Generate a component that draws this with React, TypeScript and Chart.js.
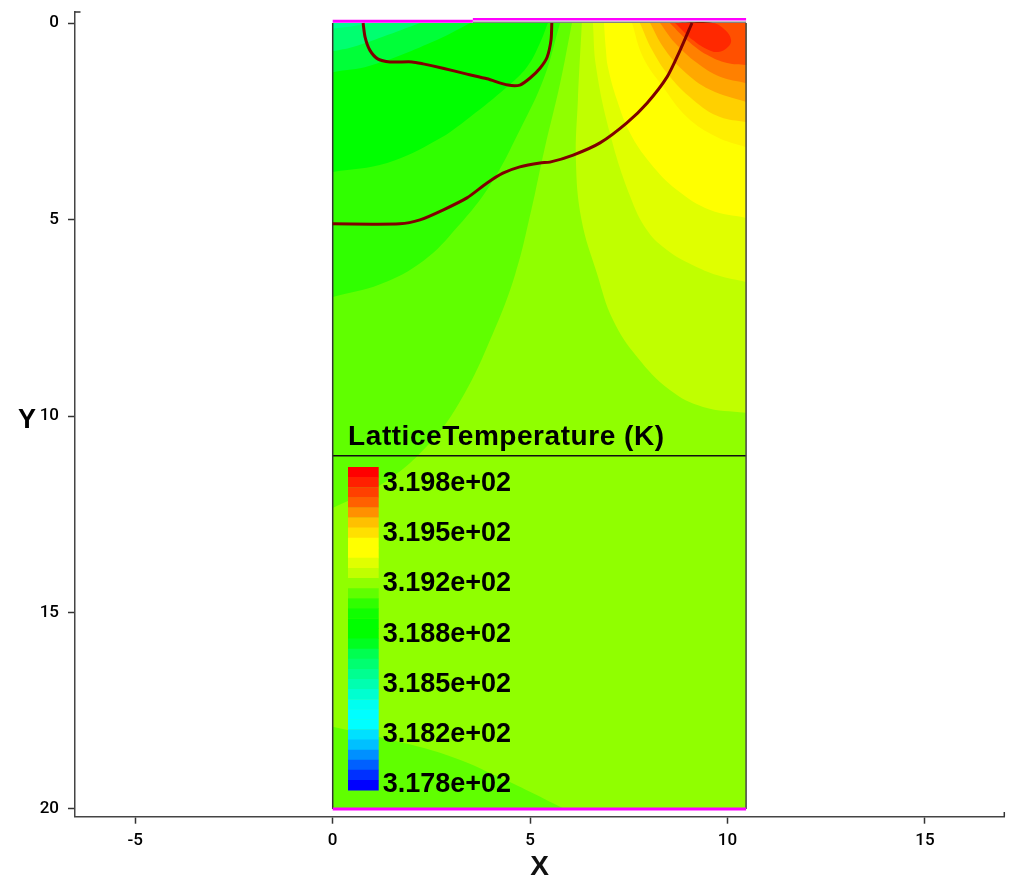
import React, { useEffect, useRef } from "react";
import { Chart, registerables } from "chart.js";

Chart.register(...registerables);

const xTicks = [-5, 0, 5, 10, 15];
const yTicks = [0, 5, 10, 15, 20];
const xMin = -6.527, xMax = 17.01, yMin = -0.28, yMax = 20.196;
const domainX = 10.47, domainY = 20;

type P = [number, number];

// Contour band boundaries, in data units (um). Painted back to front.
const wedgeBottom: P[] = [[0, 17.91], [1.17, 18.17], [2.9, 18.63], [4.24, 19.2], [5.88, 20]];
const band60: P[] = [[6.06, 0], [5.76, 1.53], [5.36, 3.23], [5.02, 4.8], [4.62, 6.4], [4.1, 7.8], [3.3, 9.5], [2.46, 10.69], [1.3, 11.7], [0, 12.34]];
const band30: P[] = [[5.76, 0], [5.35, 1.4], [4.74, 2.72], [4.0, 4.1], [3.15, 5.2], [2.3, 6.05], [1.2, 6.65], [0, 6.97]];
const band00: P[] = [[5.45, 0], [5.25, 0.51], [4.92, 1.12], [4.41, 1.63], [3.48, 2.39], [2.64, 2.98], [1.38, 3.56], [0, 3.79]];
const bandG: P[] = [[3.48, 0], [2.64, 0.43], [0.94, 1.09], [0, 1.25]];
const bandH: P[] = [[2.21, 0], [1.27, 0.35], [0.51, 0.61], [0, 0.72]];
const bandI: P[] = [[1.0, 0], [0.5, 0.08], [0, 0.14]];
const bandC: P[] = [[6.31, 0], [6.21, 1.96], [6.16, 3.5], [6.3, 5.0], [6.69, 6.36], [7.1, 7.56], [7.71, 8.5], [8.54, 9.34], [9.38, 9.77], [10.47, 9.92]];
const bandB: P[] = [[6.59, 0], [6.67, 1.12], [7.02, 2.8], [7.53, 4.4], [7.98, 5.3], [8.5, 5.8], [9.1, 6.15], [9.75, 6.42], [10.47, 6.59]];
const bandA: P[] = [[6.87, 0], [6.92, 0.69], [6.97, 1.12], [7.2, 1.96], [7.53, 2.8], [8.04, 3.56], [8.72, 4.25], [9.56, 4.76], [10.47, 4.96]];
const bandGold: P[] = [[7.58, 0], [7.86, 0.87], [8.37, 1.63], [8.97, 2.39], [9.73, 2.9], [10.47, 3.16]];
const bandAmber: P[] = [[7.78, 0], [8.09, 0.69], [8.54, 1.37], [9.23, 2.04], [9.81, 2.39], [10.47, 2.52]];
const bandOrange: P[] = [[8.04, 0], [8.37, 0.61], [8.87, 1.2], [9.56, 1.7], [10.47, 2.01]];
const bandDeep: P[] = [[8.29, 0], [8.67, 0.51], [9.23, 1.02], [9.81, 1.37], [10.47, 1.53]];
const bandRed: P[] = [[8.54, 0], [8.97, 0.43], [9.48, 0.81], [9.99, 1.02], [10.47, 1.07]];
const hotCore: P[] = [[8.67, 0], [9.63, 0], [9.94, 0.18], [10.09, 0.43], [10.01, 0.61], [9.76, 0.74], [9.43, 0.64], [9.05, 0.38]];

const contourUpper: P[] = [[0.77, 0], [0.82, 0.36], [0.94, 0.69], [1.15, 0.92], [1.45, 0.99], [2.01, 0.99], [2.29, 1.04], [2.79, 1.15], [3.4, 1.3], [3.91, 1.42], [4.44, 1.58], [4.74, 1.58], [5.0, 1.4], [5.25, 1.15], [5.43, 0.87], [5.53, 0.43], [5.55, 0]];
const contourLower: P[] = [[0, 5.11], [1.7, 5.11], [2.21, 5.01], [2.79, 4.76], [3.4, 4.45], [3.91, 4.07], [4.31, 3.82], [4.74, 3.66], [5.25, 3.56], [5.5, 3.54], [6.09, 3.36], [6.77, 3.05], [7.45, 2.54], [7.96, 2.04], [8.47, 1.37], [8.8, 0.69], [9.1, 0]];

const colorbarColors = [
  "#ff0000", "#ff2000", "#ff4000", "#ff6000", "#ff9000", "#ffc000", "#ffe000", "#ffff00",
  "#ffff00", "#e0ff00", "#c0ff00", "#90ff00", "#60ff00", "#30ff00", "#10ff00", "#00ff00",
  "#00ff00", "#00ff20", "#00ff50", "#00ff70", "#00ff90", "#00ffb0", "#00ffd0", "#00fff0",
  "#00ffff", "#00ffff", "#00e0ff", "#00c0ff", "#0090ff", "#0060ff", "#0030ff", "#0000ff",
];
const legendValues = ["3.198e+02", "3.195e+02", "3.192e+02", "3.188e+02", "3.185e+02", "3.182e+02", "3.178e+02"];
const legendRowsY = [11.9, 13.18, 14.46, 15.74, 17.02, 18.3, 19.58];
const legendTitle = "LatticeTemperature (K)";

const pts = (a: P[]) => a.map(([x, y]) => ({ x, y }));

// Closed region: boundary curve + corner; doubled ends keep the spline from rounding corners.
function region(curve: P[], corner: P | null) {
  const first = curve[0];
  const last = curve[curve.length - 1];
  const all: P[] = [first, ...curve, last];
  if (corner) all.push(corner, corner);
  all.push(first, first);
  return pts(all);
}

const fillSet = (data: { x: number; y: number }[], color: string, tension = 0.4) => ({
  data,
  showLine: true,
  fill: "shape",
  backgroundColor: color,
  borderWidth: 0,
  borderColor: color,
  pointRadius: 0,
  tension,
});

const lineSet = (a: P[], color: string, width: number, tension = 0, clip?: boolean) => ({
  data: pts(a),
  showLine: true,
  fill: false,
  borderColor: color,
  backgroundColor: color,
  borderWidth: width,
  pointRadius: 0,
  tension,
  ...(clip === false ? { clip: false } : {}),
});

const TL: P = [0, 0];
const TR: P = [domainX, 0];

function buildDatasets() {
  const rect: P[] = [[0, 0], [domainX, 0], [domainX, domainY], [0, domainY], [0, 0]];
  const list: any[] = [
    fillSet(pts(rect), "#90ff00", 0),
    fillSet(region(wedgeBottom, [0, domainY]), "#60ff00"),
    fillSet(region(band60, TL), "#60ff00"),
    fillSet(region(band30, TL), "#30ff00"),
    fillSet(region(band00, TL), "#00ff00"),
    fillSet(region(bandG, TL), "#00ff38"),
    fillSet(region(bandH, TL), "#00ff70"),
    fillSet(region(bandI, TL), "#00ff90"),
    fillSet(region(bandC, TR), "#c0ff00"),
    fillSet(region(bandB, TR), "#e0ff00"),
    fillSet(region(bandA, TR), "#ffff00"),
    fillSet(region(bandGold, TR), "#fff000"),
    fillSet(region(bandAmber, TR), "#ffd000"),
    fillSet(region(bandOrange, TR), "#ffa800"),
    fillSet(region(bandDeep, TR), "#ff8000"),
    fillSet(region(bandRed, TR), "#ff5000"),
    fillSet(region(hotCore, null), "#ff2800"),
  ];
  // colour bar swatches
  const barL = 0.388, barR = 1.165, barT = 11.298, barB = 19.517;
  const h = (barB - barT) / colorbarColors.length;
  colorbarColors.forEach((c, i) => {
    const t = barT + i * h;
    const b = t + h + 0.01;
    list.push(fillSet(pts([[barL, t], [barR, t], [barR, b], [barL, b], [barL, t]]), c, 0));
  });
  list.push(
    lineSet([[0, 11.01], [domainX, 11.01]], "#101010", 1.5),
    lineSet([[0, 0], [0, domainY]], "#333333", 1.5),
    lineSet([[domainX, 0], [domainX, domainY]], "#444444", 1.5),
    lineSet(contourUpper, "#7f0000", 3, 0.25),
    lineSet(contourLower, "#7f0000", 3, 0.25),
    lineSet([[3.55, -0.02], [domainX, -0.02]], "rgba(30,30,30,0.55)", 1.5),
    lineSet([[0, -0.045], [3.55, -0.045]], "#ff00ff", 3),
    lineSet([[3.55, -0.095], [domainX, -0.095]], "#ff00ff", 2.5),
    lineSet([[0, domainY], [domainX, domainY]], "#ff00ff", 3),
    lineSet([[xMin, yMin], [xMin + 0.14, yMin]], "#333333", 1.5, 0, false),
    lineSet([[xMax, yMax], [xMax, yMax - 0.12]], "#333333", 1.5, 0, false),
  );
  const n = list.length;
  list.forEach((d, i) => (d.order = n - i));
  return list;
}

const textPlugin = {
  id: "legendText",
  afterDatasetsDraw(chart: any) {
    const { ctx, scales } = chart;
    const sx = scales.x, sy = scales.y;
    ctx.save();
    ctx.fillStyle = "#000";
    ctx.textBaseline = "alphabetic";
    ctx.textAlign = "left";
    ctx.font = 'bold 28px "Liberation Sans"';
    ctx.letterSpacing = "0.55px";
    ctx.fillText(legendTitle, sx.getPixelForValue(0.39), sy.getPixelForValue(10.74));
    ctx.letterSpacing = "0px";
    ctx.font = 'bold 27px "Liberation Sans"';
    legendValues.forEach((s, i) => {
      ctx.fillText(s, sx.getPixelForValue(1.266), sy.getPixelForValue(legendRowsY[i]));
    });
    ctx.fillText("Y", 18, 428);
    ctx.restore();
  },
};

export default function App() {
  const ref = useRef<HTMLCanvasElement>(null);
  useEffect(() => {
    const tickFont = { family: "Roboto", size: 17, weight: 500 as any };
    const chart = new Chart(ref.current!, {
      type: "scatter",
      data: { datasets: buildDatasets() },
      plugins: [textPlugin],
      options: {
        animation: false,
        responsive: false,
        events: [],
        layout: { padding: { top: 12, right: 8.7, left: 0, bottom: 0 } },
        plugins: { legend: { display: false }, tooltip: { enabled: false } },
        scales: {
          x: {
            type: "linear",
            min: xMin,
            max: xMax,
            afterBuildTicks: (a: any) => { a.ticks = xTicks.map((value) => ({ value })); },
            afterFit: (a: any) => { a.height = 67.3; a.paddingLeft = 0; a.paddingRight = 0; },
            grid: { drawOnChartArea: false, drawTicks: true, tickLength: 7, tickColor: "#333333", tickWidth: 1.5 },
            border: { display: true, color: "#444444", width: 1.5 },
            ticks: { font: tickFont, color: "#000000", padding: 7, maxRotation: 0 },
            title: { display: true, text: "X", color: "#111111", font: { family: "Liberation Sans", size: 28, weight: "bold" }, padding: { top: 5, bottom: 0 } },
          },
          y: {
            type: "linear",
            reverse: true,
            min: yMin,
            max: yMax,
            afterBuildTicks: (a: any) => { a.ticks = yTicks.map((value) => ({ value })); },
            afterFit: (a: any) => { a.width = 75; a.paddingTop = 0; a.paddingBottom = 0; },
            grid: { drawOnChartArea: false, drawTicks: true, tickLength: 7, tickColor: "#333333", tickWidth: 1.5 },
            border: { display: true, color: "#444444", width: 1.5 },
            ticks: { font: tickFont, color: "#000000", padding: 9 },
          },
        },
      } as any,
    });
    return () => chart.destroy();
  }, []);
  return (
    <div style={{ position: "fixed", left: 0, top: 0, width: 1013, height: 884, background: "#fff" }}>
      <canvas ref={ref} width={1013} height={884} style={{ display: "block" }} />
    </div>
  );
}
